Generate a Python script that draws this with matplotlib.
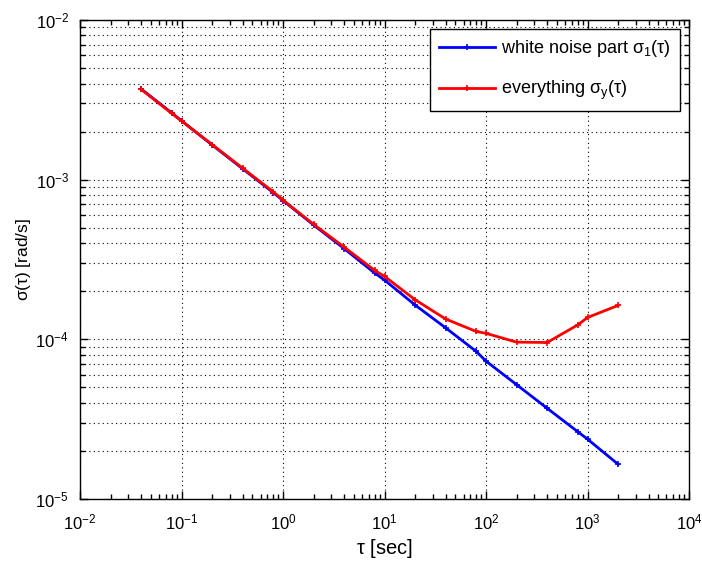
import matplotlib
matplotlib.use("Agg")
import matplotlib.pyplot as plt
from matplotlib.ticker import LogLocator, NullFormatter

plt.rcParams['font.family'] = ['Liberation Sans', 'DejaVu Sans']
plt.rcParams['mathtext.fontset'] = 'custom'
plt.rcParams['mathtext.rm'] = 'Liberation Sans'
plt.rcParams['mathtext.it'] = 'Liberation Sans'
plt.rcParams['mathtext.default'] = 'regular'

# averaging times [s]
tau = [0.04, 0.08, 0.1, 0.2, 0.4, 0.8, 1, 2, 4, 8, 10,
       20, 40, 80, 100, 200, 400, 800, 1000, 2000]

# Allan deviation, white noise part only
sigma_white = [3.7e-3, 2.62e-3, 2.34e-3, 1.65e-3, 1.17e-3, 8.3e-4, 7.4e-4,
               5.2e-4, 3.7e-4, 2.6e-4, 2.35e-4, 1.64e-4, 1.18e-4, 8.4e-5,
               7.3e-5, 5.2e-5, 3.7e-5, 2.64e-5, 2.37e-5, 1.65e-5]

# Allan deviation, all noise terms
sigma_all = [3.68e-3, 2.6e-3, 2.33e-3, 1.66e-3, 1.18e-3, 8.4e-4, 7.45e-4,
             5.25e-4, 3.78e-4, 2.7e-4, 2.48e-4, 1.77e-4, 1.34e-4, 1.12e-4,
             1.09e-4, 9.6e-5, 9.55e-5, 1.23e-4, 1.37e-4, 1.63e-4]

fig = plt.figure(figsize=(7.02, 5.67), dpi=100)
ax = fig.add_axes([0.114, 0.12, 0.8675, 0.8447])

ax.loglog(tau, sigma_white, '-+', color=(0, 0, 1), lw=2, ms=5, mew=1.2,
          label=r'white noise part $\sigma_1(\tau)$')
ax.loglog(tau, sigma_all, '-+', color=(1, 0, 0), lw=2, ms=5, mew=1.2,
          label=r'everything $\sigma_y(\tau)$')

ax.set_xlim(1e-2, 1e4)
ax.set_ylim(1e-5, 1e-2)
ax.xaxis.set_major_locator(LogLocator(base=10))
ax.yaxis.set_major_locator(LogLocator(base=10))
ax.xaxis.set_minor_locator(LogLocator(base=10, subs=range(2, 10), numticks=20))
ax.yaxis.set_minor_locator(LogLocator(base=10, subs=range(2, 10), numticks=20))
ax.xaxis.set_minor_formatter(NullFormatter())
ax.yaxis.set_minor_formatter(NullFormatter())

# dotted grid: decades only along x, every minor step along y
dots = dict(linestyle=(0, (1, 3)), color='black', linewidth=0.8)
ax.xaxis.grid(True, which='major', **dots)
ax.yaxis.grid(True, which='both', **dots)

ax.tick_params(which='both', direction='in', top=True, right=True,
               labelsize=12, width=1)
ax.tick_params(axis='x', which='major', pad=10)
ax.tick_params(axis='y', which='major', pad=8)
ax.tick_params(which='major', length=6)
ax.tick_params(which='minor', length=3.5)
for s in ax.spines.values():
    s.set_linewidth(1)

ax.set_xlabel(r'$\tau$ [sec]', fontsize=14.5, labelpad=3)
ax.set_ylabel(r'$\sigma(\tau)$ [rad/s]', fontsize=12.5, labelpad=2)

leg = ax.legend(loc='upper right', fontsize=13, fancybox=False,
                framealpha=1, edgecolor='black', handlelength=3.1,
                handletextpad=0.35, numpoints=1, borderpad=0.5,
                borderaxespad=0.5, labelspacing=1.1)
leg.get_frame().set_linewidth(1)

fig.savefig('out.png', dpi=100)
